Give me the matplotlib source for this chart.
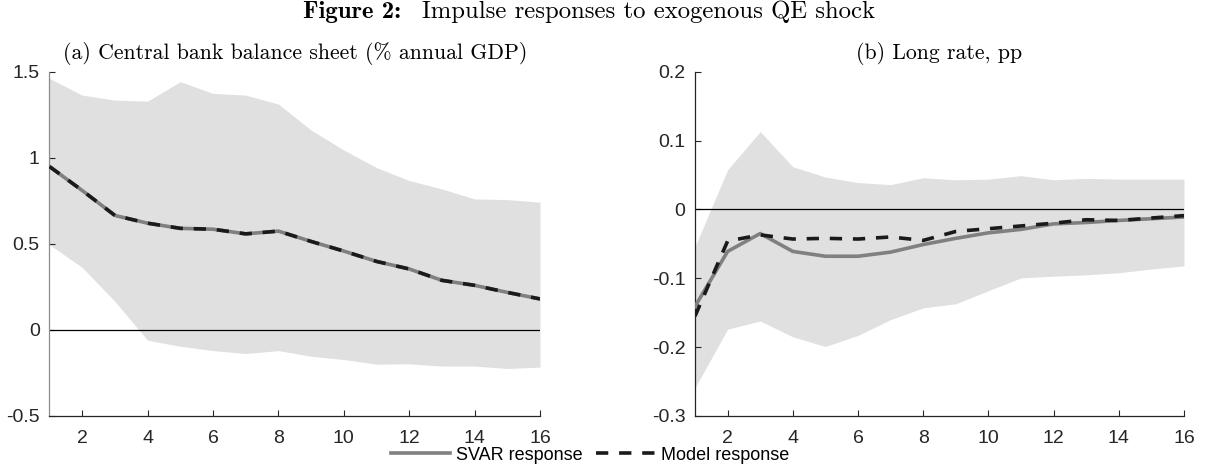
import matplotlib
matplotlib.use("Agg")
import matplotlib.pyplot as plt
import numpy as np

# horizon (quarters)
horizon = np.arange(1, 17)

# (a) central bank balance sheet, % annual GDP
bs_svar = [0.949, 0.81, 0.665, 0.62, 0.59, 0.585, 0.558, 0.574,
           0.514, 0.458, 0.398, 0.354, 0.288, 0.259, 0.218, 0.18]
bs_model = [0.949, 0.81, 0.665, 0.62, 0.59, 0.585, 0.558, 0.574,
            0.514, 0.458, 0.398, 0.354, 0.288, 0.259, 0.218, 0.18]
bs_upper = [1.461, 1.364, 1.335, 1.329, 1.442, 1.374, 1.364, 1.312,
            1.161, 1.045, 0.943, 0.868, 0.819, 0.761, 0.757, 0.742]
bs_lower = [0.495, 0.363, 0.166, -0.06, -0.095, -0.12, -0.137, -0.12,
            -0.153, -0.172, -0.199, -0.197, -0.21, -0.21, -0.224, -0.216]

# (b) long rate, pp
lr_svar = [-0.141, -0.061, -0.035, -0.061, -0.068, -0.068, -0.062, -0.051,
           -0.042, -0.034, -0.029, -0.021, -0.019, -0.016, -0.0135, -0.011]
lr_model = [-0.155, -0.046, -0.037, -0.043, -0.042, -0.043, -0.040, -0.045,
            -0.032, -0.028, -0.024, -0.020, -0.015, -0.016, -0.0125, -0.009]
lr_upper = [-0.054, 0.0575, 0.113, 0.062, 0.047, 0.039, 0.036, 0.046,
            0.043, 0.044, 0.049, 0.043, 0.045, 0.044, 0.044, 0.044]
lr_lower = [-0.259, -0.174, -0.162, -0.185, -0.199, -0.183, -0.16, -0.143,
            -0.137, -0.118, -0.0995, -0.097, -0.095, -0.092, -0.0865, -0.082]

xticks = [2, 4, 6, 8, 10, 12, 14, 16]
bs_yticks = [-0.5, 0, 0.5, 1, 1.5]
bs_yticklabels = ['-0.5', '0', '0.5', '1', '1.5']
lr_yticks = [-0.3, -0.2, -0.1, 0, 0.1, 0.2]
lr_yticklabels = ['-0.3', '-0.2', '-0.1', '0', '0.1', '0.2']

fig_title_bold = 'Figure 2:'
fig_title = 'Impulse responses to exogenous QE shock'
panel_titles = ['(a) Central bank balance sheet (% annual GDP)', '(b) Long rate, pp']
legend_labels = ['SVAR response', 'Model response']

W, H = 1207, 466
fig = plt.figure(figsize=(W / 100, H / 100), dpi=100)
plt.rcParams['font.family'] = ['Liberation Sans', 'DejaVu Sans']

axcol = '#262626'
band = '#e0e0e0'


def px(x0, y0, x1, y1):
    # pixel box -> figure fraction rect
    return [x0 / W, 1 - y1 / H, (x1 - x0) / W, (y1 - y0) / H]


def panel(ax, upper, lower, svar, model, ylim, yticks, yticklabels, title):
    ax.fill_between(horizon, lower, upper, color=band, lw=0, zorder=1)
    ax.axhline(0, color='black', lw=0.9, zorder=2)
    ax.plot(horizon, svar, color='#808080', lw=2.6, zorder=3,
            label=legend_labels[0])
    ax.plot(horizon, model, color='#1a1a1a', lw=2.6, ls=(0, (3.4, 3.0)),
            zorder=4, label=legend_labels[1])
    ax.set_xlim(1, 16)
    ax.set_ylim(*ylim)
    ax.set_xticks(xticks)
    ax.set_yticks(yticks)
    ax.set_yticklabels(yticklabels)
    for s in ['top', 'right']:
        ax.spines[s].set_visible(False)
    for s in ['left', 'bottom']:
        ax.spines[s].set_color(axcol)
        ax.spines[s].set_linewidth(0.9)
    ax.tick_params(direction='in', length=4, width=0.8, colors=axcol,
                   labelsize=14, labelcolor=axcol)
    ax.tick_params(axis='x', pad=10)
    ax.tick_params(axis='y', pad=7)
    ax.set_title(title, family='cmr10', fontsize=15.7, pad=9)


ax1 = fig.add_axes(px(49.5, 71.7, 540, 416))
panel(ax1, bs_upper, bs_lower, bs_svar, bs_model, (-0.5, 1.5),
      bs_yticks, bs_yticklabels, panel_titles[0])
ax1.spines['left'].set_color('#8c8c8c')

ax2 = fig.add_axes(px(695, 71.7, 1184, 416))
panel(ax2, lr_upper, lr_lower, lr_svar, lr_model, (-0.3, 0.2),
      lr_yticks, lr_yticklabels, panel_titles[1])

# figure title, Computer Modern look
fig.text(401 / W, 1 - 18 / H, fig_title_bold, family='cmb10', fontsize=17.8,
         ha='right', va='baseline')
fig.text(422 / W, 1 - 18 / H, fig_title, family='cmr10', fontsize=17.8,
         ha='left', va='baseline')

handles, labels = ax2.get_legend_handles_labels()
fig.legend(handles, labels, loc='center', bbox_to_anchor=(590 / W, 1 - 455 / H),
           ncol=2, frameon=False, fontsize=13, handlelength=3.3,
           handletextpad=0.28, columnspacing=0.78, borderpad=0)

fig.savefig('out.png', dpi=100)
